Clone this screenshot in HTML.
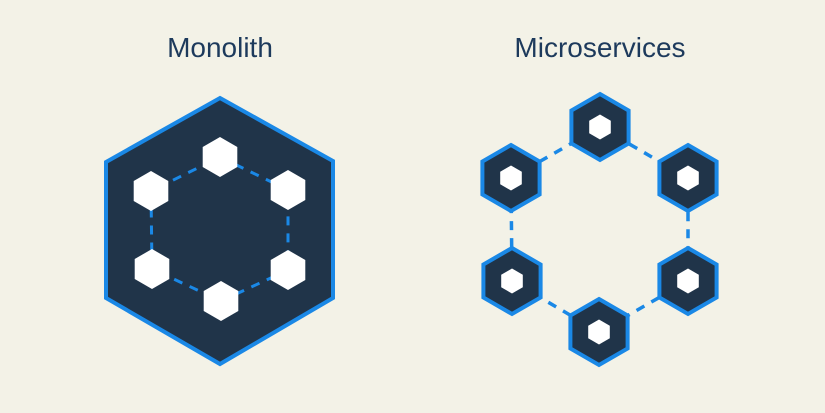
<!DOCTYPE html>
<html><head><meta charset="utf-8"><style>
html,body{margin:0;padding:0;background:#f3f2e7;}
svg{display:block}
</style></head><body>
<svg width="825" height="413" viewBox="0 0 825 413">
<rect width="825" height="413" fill="#f3f2e7"/>
<text x="220" y="57" text-anchor="middle" font-family="Liberation Sans, sans-serif" font-size="28" fill="#1d3a5c">Monolith</text>
<text x="600" y="57" text-anchor="middle" font-family="Liberation Sans, sans-serif" font-size="28" fill="#1d3a5c">Microservices</text>
<g id="mono"></g>
<g id="micro"></g>
</svg>
<script>
const NS='http://www.w3.org/2000/svg';
function hex(cx,cy,r){let p=[];for(let i=0;i<6;i++){const a=Math.PI/180*(60*i-90);p.push((cx+r*Math.cos(a)).toFixed(1)+','+(cy+r*Math.sin(a)).toFixed(1));}return p.join(' ');}
function poly(parent,pts,attrs,name){const e=document.createElementNS(NS,'polygon');e.setAttribute('points',pts);for(const k in attrs)e.setAttribute(k,attrs[k]);


parent.appendChild(e);return e;}
const mono=document.getElementById('mono');
poly(mono,'220,98 333,161 333,298 220,364 106,298 106,162',{fill:'#203449',stroke:'#1a88e6','stroke-width':4,'stroke-linejoin':'miter'},'monolith-outer-hexagon');
const mc=[[220,157],[288,190],[288,270],[221,301],[152,269],[151,191]];
poly(mono,mc.map(p=>p.join(',')).join(' '),{fill:'none',stroke:'#1a88e6','stroke-width':3,'stroke-dasharray':'9 8'},'monolith-dashed-ring');
mc.forEach(([x,y])=>poly(mono,hex(x,y,20),{fill:'#ffffff'},'monolith-component'));
const micro=document.getElementById('micro');
const sc=[[600,127],[688,178],[688,281],[599,332],[512,281],[511,178]];
poly(micro,sc.map(p=>p.join(',')).join(' '),{fill:'none',stroke:'#1a88e6','stroke-width':3.5,'stroke-dasharray':'9 8'},'microservices-dashed-ring');
sc.forEach(([x,y])=>{poly(micro,hex(x,y,33),{fill:'#203449',stroke:'#1a88e6','stroke-width':4},'microservice-hexagon');
poly(micro,hex(x,y,12.5),{fill:'#ffffff'},'microservice-core');});
</script>
</body></html>
